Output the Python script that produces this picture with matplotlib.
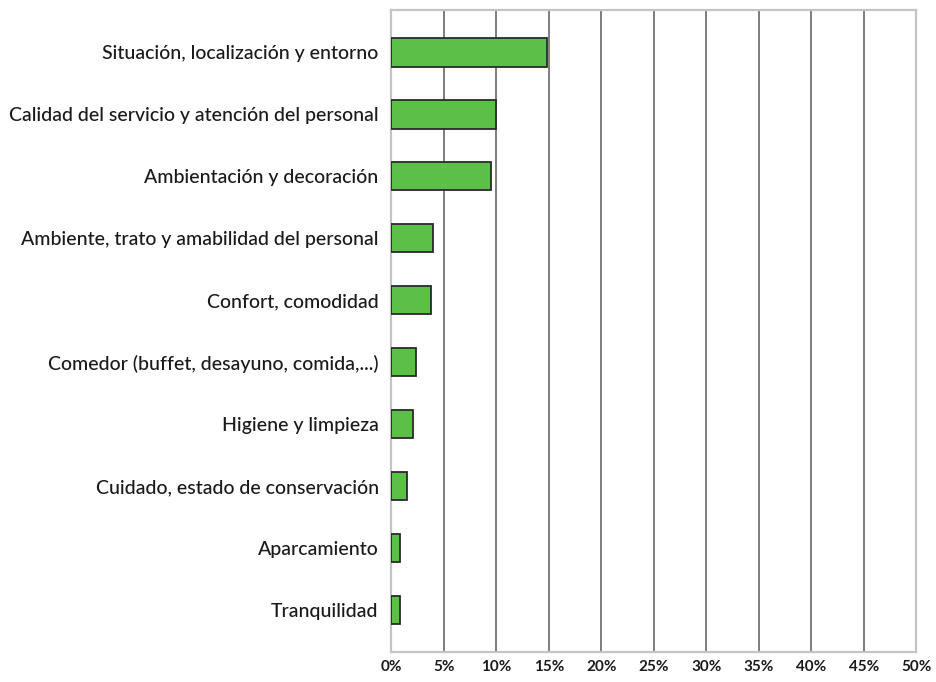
import matplotlib.pyplot as plt
from matplotlib.ticker import FuncFormatter

categorias = [
    "Situación, localización y entorno",
    "Calidad del servicio y atención del personal",
    "Ambientación y decoración",
    "Ambiente, trato y amabilidad del personal",
    "Confort, comodidad",
    "Comedor (buffet, desayuno, comida,...)",
    "Higiene y limpieza",
    "Cuidado, estado de conservación",
    "Aparcamiento",
    "Tranquilidad",
]
porcentajes = [14.8, 10.0, 9.5, 4.0, 3.8, 2.4, 2.1, 1.5, 0.8, 0.8]
marcas_x = [0, 5, 10, 15, 20, 25, 30, 35, 40, 45, 50]

plt.rcParams['font.family'] = ['Lato', 'DejaVu Sans']

fig = plt.figure(figsize=(9.36, 6.82), dpi=100)
ax = fig.add_axes([0.418, 0.044, 0.561, 0.941])

pos = list(range(len(categorias)))
ax.barh(pos, porcentajes, height=0.46, color='#5cbf47',
        edgecolor='#2a2a2a', linewidth=1.3, zorder=3)

# lineas verticales de referencia cada 5%
for x in marcas_x[1:-1]:
    ax.axvline(x, color='#5a5a5a', linewidth=1.1, zorder=1)

ax.set_xlim(0, 50)
ax.set_ylim(len(categorias) - 0.32, -0.68)
ax.set_xticks(marcas_x)
ax.xaxis.set_major_formatter(FuncFormatter(lambda v, p: f"{v:.0f}%"))
ax.set_yticks(pos)
ax.set_yticklabels(categorias, fontsize=14, color='#1a1a1a', fontweight='medium')
ax.tick_params(axis='x', length=0, pad=6, labelsize=11, labelcolor='#1a1a1a')
ax.tick_params(axis='y', length=0, pad=9)
for lab in ax.get_xticklabels():
    lab.set_fontweight('bold')

for s in ax.spines.values():
    s.set_color('#c4c4c4')
    s.set_linewidth(1.6)

fig.savefig('out.png', dpi=100)
